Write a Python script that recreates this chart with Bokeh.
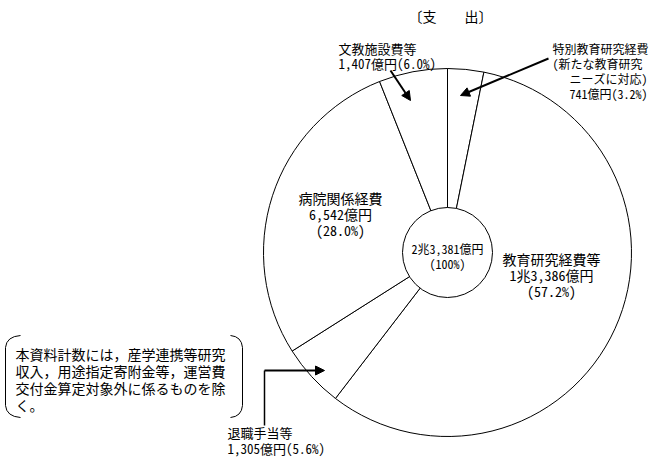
import numpy as np
from bokeh.plotting import figure
from bokeh.models import ColumnDataSource, Label, Arrow, NormalHead, Range1d
from bokeh.embed import file_html
from bokeh.resources import INLINE

# ---- data ----
categories = ["特別教育研究経費", "教育研究経費等", "退職手当等", "病院関係経費", "文教施設費等"]
values = [741, 13386, 1305, 6542, 1407]
amount_labels = ["741億円", "1兆3,386億円", "1,305億円", "6,542億円", "1,407億円"]
percent_labels = ["3.2%", "57.2%", "5.6%", "28.0%", "6.0%"]
total_label = "2兆3,381億円"
title_text = "〔支　　出〕"
note_lines = ["本資料計数には，産学連携等研究", "収入，用途指定寄附金等，運営費",
              "交付金算定対象外に係るものを除", "く。"]

FONT = "'Noto Sans Mono CJK JP', 'Noto Sans CJK JP'"
W, H = 657, 459


def X(sx):
    return sx


def Y(sy):
    return H - sy


p = figure(width=W, height=H, output_backend="svg", toolbar_location=None,
           x_range=Range1d(0, W), y_range=Range1d(0, H),
           min_border=0)
p.axis.visible = False
p.grid.visible = False
p.outline_line_color = None
p.background_fill_color = "white"
p.border_fill_color = "white"

vals = np.array(values, dtype=float)
cum = np.cumsum(vals) / vals.sum()
prev = np.concatenate([[0.0], cum[:-1]])
src = ColumnDataSource(dict(
    cat=categories,
    start=np.pi / 2 - 2 * np.pi * prev,
    end=np.pi / 2 - 2 * np.pi * cum,
))
CX, CY, R = X(447), Y(252), 184
p.wedge(x=CX, y=CY, radius=R, start_angle="start", end_angle="end",
        direction="clock", source=src, fill_color="white",
        line_color="black", line_width=1)
p.circle(x=CX, y=CY, radius=45, fill_color="white", line_color="black", line_width=1)


def lab(sx, sy, text, size="13px", align="left"):
    p.add_layout(Label(x=X(sx), y=Y(sy), text=text, text_font=FONT, text_font_size=size,
                       text_align=align, text_baseline="middle", text_color="black"))


# title
lab(450, 15, title_text, "14px", "center")

# 文教施設費等
lab(338, 48, categories[4], "13px")
lab(338, 63, f"{amount_labels[4]}({percent_labels[4]})", "13px")

# 特別教育研究経費
lab(552, 48, categories[0], "12px")
lab(552, 63, "(新たな教育研究", "12px")
lab(647, 78, "ニーズに対応)", "12px", "right")
lab(647, 93, f"{amount_labels[0]}({percent_labels[0]})", "12px", "right")

# 病院関係経費
lab(340, 197, categories[3], "14px", "center")
lab(340, 213, amount_labels[3], "14px", "center")
lab(340, 229, f"({percent_labels[3]})", "14px", "center")

# centre
lab(447, 248, total_label, "12px", "center")
lab(447, 263, "(100%)", "12px", "center")

# 教育研究経費等
lab(551, 258, categories[1], "14px", "center")
lab(551, 274, amount_labels[1], "14px", "center")
lab(551, 290, f"({percent_labels[1]})", "14px", "center")

# 退職手当等
lab(227, 432, categories[2], "13px")
lab(227, 448, f"{amount_labels[2]}({percent_labels[2]})", "13px")

# note
for i, t in enumerate(note_lines):
    lab(15, 353 + i * 17, t, "14px")

# brackets
p.quadratic(x0=[X(20), X(5), X(230), X(242)], y0=[Y(335), Y(405), Y(335), Y(405)],
            x1=[X(5), X(20), X(242), X(230)], y1=[Y(347), Y(417), Y(347), Y(417)],
            cx=[X(6), X(6), X(241), X(241)], cy=[Y(336), Y(416), Y(336), Y(416)],
            line_color="black", line_width=1)
p.segment(x0=[X(5), X(242)], y0=[Y(347), Y(347)], x1=[X(5), X(242)], y1=[Y(405), Y(405)],
          line_color="black", line_width=1)

# arrows
head = dict(size=9, fill_color="black", line_color="black")
p.add_layout(Arrow(end=NormalHead(**head), x_start=X(390), y_start=Y(70),
                   x_end=X(410), y_end=Y(100), line_width=2, line_color="black"))
p.add_layout(Arrow(end=NormalHead(**head), x_start=X(548), y_start=Y(58),
                   x_end=X(460), y_end=Y(95), line_width=2, line_color="black"))
p.segment(x0=[X(264)], y0=[Y(425)], x1=[X(264)], y1=[Y(370)], line_color="black", line_width=1.5)
p.add_layout(Arrow(end=NormalHead(**head), x_start=X(264), y_start=Y(370),
                   x_end=X(324), y_end=Y(370), line_width=2, line_color="black"))

open("out.html", "w").write(file_html(p, INLINE))
